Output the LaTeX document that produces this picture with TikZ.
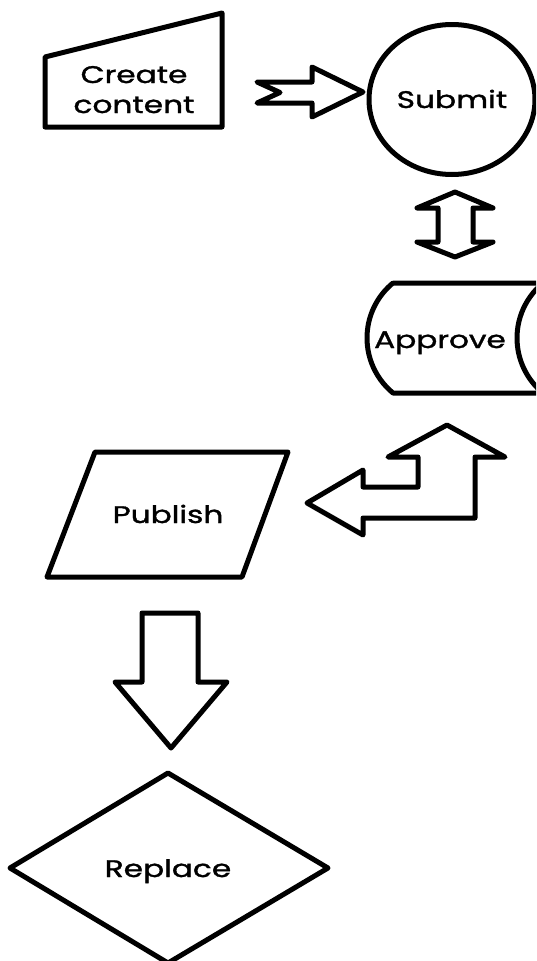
\documentclass[tikz,border=0pt]{standalone}
\usepackage{fontspec}
\usepackage{graphicx}
\newfontfamily\lblfont{Poppins}[FakeBold=1.2]
\newcommand\wtxt[1]{\scalebox{1.3}[1]{#1}}
\tikzset{
  shp/.style={draw=black, line width=5, line join=round, fill=white},
  lbl/.style={inner sep=0pt, anchor=base, font=\lblfont\fontsize{24}{30}\selectfont}
}
\begin{document}
\begin{tikzpicture}[x=1pt,y=-1pt]
\useasboundingbox (0,0) rectangle (536,961);
\clip (0,0) rectangle (536,961);
% Create content
\draw[shp] (45,57) -- (222,13) -- (222,127) -- (45,127) -- cycle;
\node[lbl] (create) at (134,83) {\begin{tabular}[t]{@{}c@{}}\wtxt{Create}\\\wtxt{content}\end{tabular}};
% notched arrow
\draw[shp] (257,82) -- (312,82) -- (312,67) -- (363,92) -- (312,117) -- (312,103) -- (257,103) -- (280,92.5) -- cycle;
% Submit
\draw[shp] (452,99.5) ellipse[x radius=83, y radius=75];
\node[lbl] (submit) at (452,108) {\wtxt{Submit}};
% double arrow
\draw[shp] (455,192) -- (493,208) -- (473,208) -- (473,242) -- (493,242) -- (455,257) -- (417,242) -- (438,242) -- (438,208) -- (417,208) -- cycle;
% Approve
\draw[shp] (393,283) -- (543,283) arc[start angle=230.6, end angle=129.4, radius=71.2] -- (393,393) arc[start angle=129.4, end angle=230.6, radius=71.2] -- cycle;
\node[lbl] (approve) at (440,348) {\wtxt{Approve}};
% elbow arrow
\draw[shp] (307,503) -- (363,470) -- (363,487) -- (418,487) -- (418,457) -- (388,457) -- (447,425) -- (505,457) -- (475,457) -- (475,518) -- (363,518) -- (363,535) -- cycle;
% Publish
\draw[shp] (95,452) -- (288,452) -- (242,577) -- (47,577) -- cycle;
\node[lbl] (publish) at (168,523) {\wtxt{Publish}};
% down arrow
\draw[shp] (142,613) -- (198,613) -- (198,682) -- (227,682) -- (171,748) -- (115,682) -- (142,682) -- cycle;
% Replace
\draw[shp] (168,773) -- (328,868) -- (168,963) -- (10,868) -- cycle;
\node[lbl] (replace) at (168,877) {\wtxt{Replace}};
\end{tikzpicture}
\end{document}
